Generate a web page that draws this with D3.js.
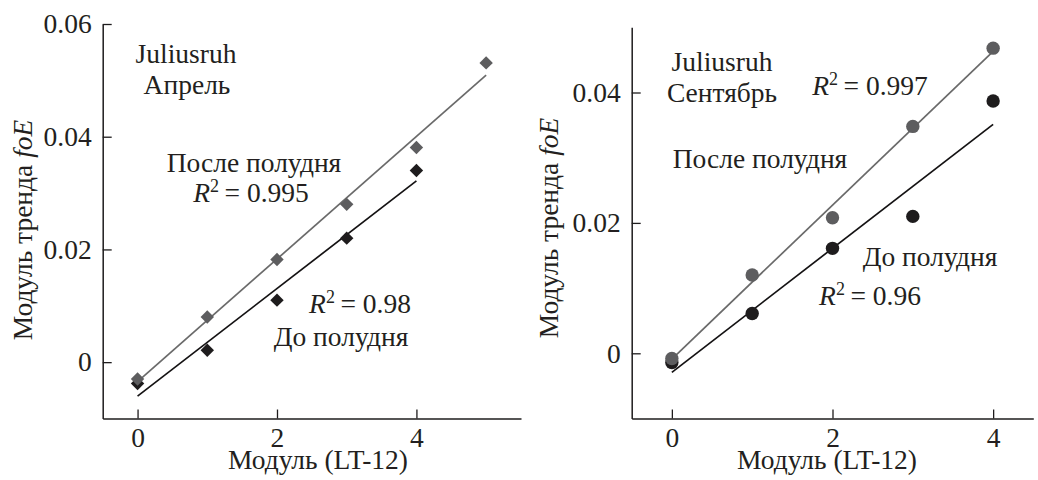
<!DOCTYPE html>
<html>
<head>
<meta charset="utf-8">
<script src="https://cdn.jsdelivr.net/npm/d3@7"></script>
<style>
  html, body { margin: 0; padding: 0; background: #fff; }
  svg { display: block; }
</style>
</head>
<body>
<svg id="chart" width="1038" height="480"></svg>
<script>
// Hour offset |LT-12|
const hoursApril = [0, 1, 2, 3, 4, 5];
const hoursAprilAm = [0, 1, 2, 3, 4];
const hoursSept = [0, 1, 2, 3, 4];

// |foE trend| values, Juliusruh, April
const aprilAfternoon = [-0.003, 0.008, 0.0182, 0.028, 0.0381, 0.0531];
const aprilMorning = [-0.0038, 0.0021, 0.011, 0.022, 0.034];

// |foE trend| values, Juliusruh, September
const septAfternoon = [-0.0008, 0.012, 0.0208, 0.0348, 0.0468];
const septMorning = [-0.0014, 0.0061, 0.0161, 0.021, 0.0387];

// Axis ticks
const xTicks = [0, 2, 4];
const yTicksApril = [0, 0.02, 0.04, 0.06];
const yTicksSept = [0, 0.02, 0.04];

const GRAY = "#5d5d5f";
const GRAY_LINE = "#6a6a6a";
const DARK = "#1e1c1d";
const INK = "#231f20";
const FONT = 27.5;
const FAMILY = '"Liberation Serif"';

const svg = d3.select("#chart");

function styleText(sel, size) {
  return sel.style("font-family", FAMILY)
    .style("font-size", (size || FONT) + "px")
    .style("fill", INK);
}

// least-squares straight line through (xs, ys)
function linearFit(xs, ys) {
  const n = xs.length;
  const mx = d3.mean(xs), my = d3.mean(ys);
  let sxy = 0, sxx = 0;
  for (let i = 0; i < n; i++) {
    sxy += (xs[i] - mx) * (ys[i] - my);
    sxx += (xs[i] - mx) * (xs[i] - mx);
  }
  const slope = sxy / sxx;
  return { slope, intercept: my - slope * mx };
}

function addR2(g, x, y, value) {
  const t = styleText(g.append("text"), FONT)
    .attr("x", x).attr("y", y).attr("text-anchor", "middle");
  t.append("tspan").style("font-style", "italic").text("R");
  t.append("tspan").style("font-size", "18px").attr("dy", -10).text("2");
  t.append("tspan").attr("dy", 10).text("\u2009= " + value);
}

function drawPanel(cfg) {
  const g = svg.append("g");
  const x = d3.scaleLinear().domain(cfg.xDomain).range(cfg.xRange);
  const y = d3.scaleLinear().domain(cfg.yDomain).range(cfg.yRange);

  const fmt = d => d === 0 ? "0" : d3.format(".2f")(d);

  const yAxis = g.append("g")
    .attr("transform", `translate(${cfg.xRange[0]},0)`)
    .call(d3.axisLeft(y).tickValues(cfg.yTicks).tickFormat(fmt)
      .tickSizeInner(-9).tickSizeOuter(0).tickPadding(11));
  const xAxis = g.append("g")
    .attr("transform", `translate(0,${cfg.yRange[0]})`)
    .call(d3.axisBottom(x).tickValues(xTicks).tickFormat(d3.format("d"))
      .tickSizeInner(-9).tickSizeOuter(0).tickPadding(9));
  [xAxis, yAxis].forEach(a => {
    a.attr("font-family", null).attr("font-size", null);
    a.select(".domain").attr("stroke", DARK).attr("stroke-width", 1.5);
    a.selectAll(".tick line").attr("stroke", DARK).attr("stroke-width", 1.3);
    styleText(a.selectAll("text"), FONT);
  });

  // axis titles
  styleText(g.append("text"), FONT)
    .attr("x", cfg.xTitle[0]).attr("y", cfg.xTitle[1])
    .attr("text-anchor", "middle")
    .text("Модуль (LT-12)");
  const yt = styleText(g.append("text"), FONT)
    .attr("transform", `translate(${cfg.yTitle[0]},${cfg.yTitle[1]}) rotate(-90)`)
    .attr("text-anchor", "middle");
  yt.append("tspan").text("Модуль тренда ");
  yt.append("tspan").style("font-style", "italic").text("foE");

  // regression lines
  cfg.series.forEach(s => {
    const f = linearFit(s.xs, s.ys);
    const x0 = d3.min(s.xs), x1 = d3.max(s.xs);
    g.append("line")
      .attr("x1", x(x0)).attr("y1", y(f.intercept + f.slope * x0))
      .attr("x2", x(x1)).attr("y2", y(f.intercept + f.slope * x1))
      .attr("stroke", s.lineColor).attr("stroke-width", 1.7);
  });

  // markers
  cfg.series.forEach(s => {
    const pts = s.xs.map((v, i) => [v, s.ys[i]]);
    if (cfg.marker === "diamond") {
      const sym = d3.symbol(d3.symbolSquare, 90);
      g.selectAll(null).data(pts).join("path")
        .attr("d", sym)
        .attr("transform", d => `translate(${x(d[0])},${y(d[1])}) rotate(45)`)
        .attr("fill", s.color);
    } else {
      g.selectAll(null).data(pts).join("circle")
        .attr("cx", d => x(d[0])).attr("cy", d => y(d[1]))
        .attr("r", 6.7).attr("fill", s.color);
    }
  });

  // annotations
  cfg.notes.forEach(n => {
    if (n.r2) {
      addR2(g, n.x, n.y, n.r2);
    } else {
      styleText(g.append("text"), FONT)
        .attr("x", n.x).attr("y", n.y)
        .attr("text-anchor", "middle").text(n.text);
    }
  });
}

drawPanel({
  xDomain: [-0.5, 5.5], xRange: [102.7, 521],
  yDomain: [-0.01, 0.06], yRange: [418.5, 24],
  yTicks: yTicksApril,
  xTitle: [318, 469], yTitle: [32, 230],
  marker: "diamond",
  series: [
    { xs: hoursAprilAm, ys: aprilMorning, color: DARK, lineColor: "#141213" },
    { xs: hoursApril, ys: aprilAfternoon, color: GRAY, lineColor: GRAY_LINE }
  ],
  notes: [
    { text: "Juliusruh", x: 186, y: 63 },
    { text: "Апрель", x: 187, y: 94 },
    { text: "После полудня", x: 254, y: 172 },
    { r2: "0.995", x: 251, y: 202 },
    { r2: "0.98", x: 360, y: 313 },
    { text: "До полудня", x: 341, y: 346 }
  ]
});

drawPanel({
  xDomain: [-0.5, 4.5], xRange: [631.7, 1033.3],
  yDomain: [-0.01, 0.05], yRange: [418.5, 27.3],
  yTicks: yTicksSept,
  xTitle: [827, 469], yTitle: [558, 228],
  marker: "circle",
  series: [
    { xs: hoursSept, ys: septMorning, color: DARK, lineColor: "#141213" },
    { xs: hoursSept, ys: septAfternoon, color: GRAY, lineColor: GRAY_LINE }
  ],
  notes: [
    { text: "Juliusruh", x: 722, y: 71 },
    { text: "Сентябрь", x: 722, y: 102 },
    { r2: "0.997", x: 870, y: 95 },
    { text: "После полудня", x: 760, y: 168 },
    { text: "До полудня", x: 930, y: 266 },
    { r2: "0.96", x: 870, y: 305 }
  ]
});
</script>
</body>
</html>
